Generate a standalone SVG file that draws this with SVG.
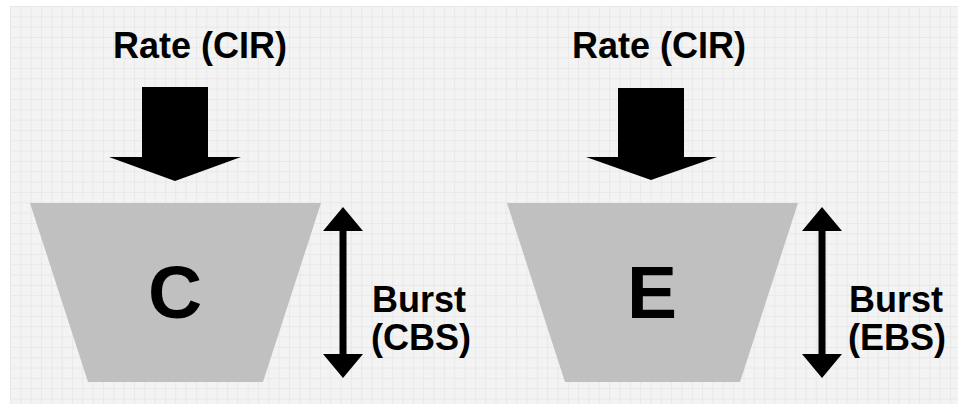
<svg xmlns="http://www.w3.org/2000/svg" width="958" height="404" viewBox="0 0 958 404">
  <defs>
    <pattern id="grid" x="10" y="6" width="10.33" height="10.33" patternUnits="userSpaceOnUse">
      <rect width="10.33" height="10.33" fill="#f3f3f3"/>
      <path d="M0 0.5 H10.33 M0.5 0 V10.33" stroke="#e8e8e8" stroke-width="1" fill="none"/>
    </pattern>
    <style>
      .label { font-family: "Liberation Sans", Arial, sans-serif; font-weight: bold; fill: #000; }
      .title { font-size: 36px; text-anchor: middle; }
      .big { font-size: 75px; text-anchor: middle; }
      .side { font-size: 36px; }
      .bucket { fill: #c0c0c0; }
      .arrow { fill: #000; }
    </style>
  </defs>

  <!-- background -->
  <rect width="958" height="404" fill="#ffffff"/>
  <rect x="10" y="6" width="948" height="398" fill="url(#grid)"/>

  <!-- committed bucket -->
  <g id="bucket-c">
    <polygon class="bucket" points="30,203 321,203 263,382 88,382"/>
    <text class="label big" x="175" y="318">C</text>
  </g>
  <g id="rate-c">
    <text class="label title" x="200" y="58">Rate (CIR)</text>
    <polygon class="arrow" points="142,87 208,87 208,157 241,157 175,181 109,157 142,157"/>
  </g>
  <g id="burst-c">
    <text class="label side" x="372" y="312">Burst</text>
    <text class="label side" x="371" y="350">(CBS)</text>
  </g>

  <!-- excess bucket -->
  <g id="bucket-e">
    <polygon class="bucket" points="507,203 798,203 740,382 565,382"/>
    <text class="label big" x="652" y="318">E</text>
  </g>
  <g id="rate-e">
    <text class="label title" x="659" y="58">Rate (CIR)</text>
    <polygon class="arrow" points="618,88 684,88 684,157 717,157 651,180 586,157 618,157"/>
  </g>
  <g id="burst-e">
    <text class="label side" x="849" y="312">Burst</text>
    <text class="label side" x="848" y="350">(EBS)</text>
  </g>

  <!-- burst size double arrows -->
  <g id="connectors">
    <polygon class="arrow" points="343,207 363,231 346.5,231 346.5,354 363,354 343,378 323,354 339.5,354 339.5,231 323,231"/>
    <polygon class="arrow" points="822,207 842,231 825.5,231 825.5,354 842,354 822,378 802,354 818.5,354 818.5,231 802,231"/>
  </g>
</svg>
